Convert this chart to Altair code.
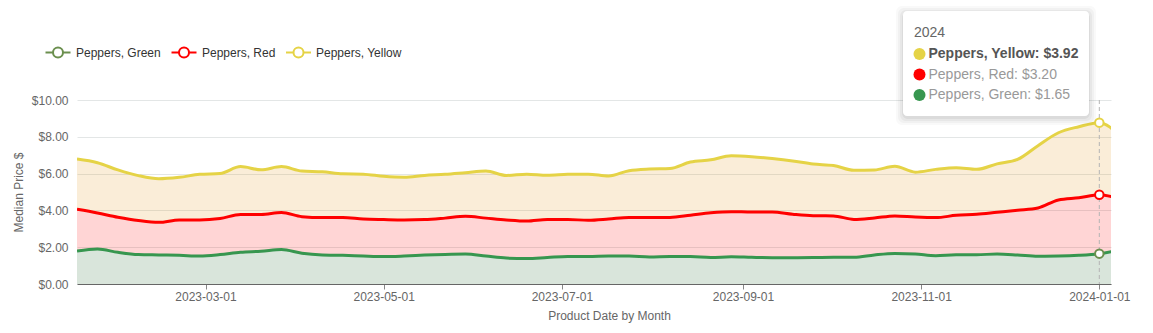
import altair as alt
import pandas as pd

# ---- data ----
dates = [
    "2023-01-16", "2023-01-23", "2023-01-30", "2023-02-06", "2023-02-13", "2023-02-20",
    "2023-02-27", "2023-03-06", "2023-03-13", "2023-03-20", "2023-03-27", "2023-04-03",
    "2023-04-10", "2023-04-17", "2023-04-24", "2023-05-01", "2023-05-08", "2023-05-15",
    "2023-05-22", "2023-05-29", "2023-06-05", "2023-06-12", "2023-06-19", "2023-06-26",
    "2023-07-03", "2023-07-10", "2023-07-17", "2023-07-24", "2023-07-31", "2023-08-07",
    "2023-08-14", "2023-08-21", "2023-08-28", "2023-09-04", "2023-09-11", "2023-09-18",
    "2023-09-25", "2023-10-02", "2023-10-09", "2023-10-16", "2023-10-23", "2023-10-30",
    "2023-11-06", "2023-11-13", "2023-11-20", "2023-11-27", "2023-12-04", "2023-12-11",
    "2023-12-18", "2023-12-25", "2024-01-01", "2024-01-08",
]
series_names = ["Peppers, Green", "Peppers, Red", "Peppers, Yellow"]
green = [1.79, 1.90, 1.72, 1.60, 1.58, 1.56, 1.52, 1.60, 1.73, 1.78,
         1.87, 1.67, 1.58, 1.56, 1.52, 1.49, 1.52, 1.57, 1.61, 1.63,
         1.52, 1.41, 1.38, 1.44, 1.50, 1.49, 1.52, 1.52, 1.47, 1.49,
         1.49, 1.44, 1.48, 1.45, 1.43, 1.43, 1.44, 1.45, 1.45, 1.58,
         1.66, 1.63, 1.54, 1.59, 1.59, 1.63, 1.58, 1.51, 1.52, 1.56,
         1.65, 1.85]
red = [2.27, 1.96, 1.91, 1.85, 1.77, 1.92, 1.96, 1.96, 2.05, 2.00,
       2.01, 1.99, 2.03, 2.05, 2.01, 2.01, 1.96, 1.93, 1.97, 2.05,
       2.06, 2.07, 2.04, 2.07, 2.01, 1.97, 2.01, 2.10, 2.15, 2.13,
       2.25, 2.43, 2.45, 2.46, 2.48, 2.36, 2.27, 2.25, 2.06, 2.01,
       2.04, 2.01, 2.07, 2.14, 2.20, 2.27, 2.43, 2.62, 3.05, 3.13,
       3.20, 2.78]
yellow = [2.73, 2.73, 2.57, 2.44, 2.37, 2.32, 2.48, 2.45, 2.60, 2.43,
          2.50, 2.48, 2.49, 2.38, 2.44, 2.35, 2.32, 2.40, 2.38, 2.37,
          2.56, 2.42, 2.55, 2.40, 2.45, 2.51, 2.34, 2.54, 2.63, 2.66,
          2.89, 2.88, 3.04, 3.01, 2.91, 2.90, 2.81, 2.74, 2.67, 2.61,
          2.70, 2.44, 2.62, 2.59, 2.44, 2.63, 2.76, 3.39, 3.65, 3.86,
          3.92, 3.40]
x_ticks = ["2023-03-01", "2023-05-01", "2023-07-01", "2023-09-01", "2023-11-01", "2024-01-01"]
y_ticks = [0, 2, 4, 6, 8, 10]
hover_date = "2024-01-01"
hover_label = "2024"

# ---- styles ----
line_colors = ["#37964f", "#ff0000", "#e5d346"]
legend_colors = ["#6b8f4e", "#ff0000", "#e5d346"]
fill_colors = ["#20662b", "#ff0808", "#e2951a"]
line_widths = [3, 3, 2.2]
FONT = "Liberation Sans"

rows = []
for name, order, vals in zip(series_names, [0, 1, 2], [green, red, yellow]):
    for d, v in zip(dates, vals):
        rows.append({"date": d, "series": name, "price": v, "ord": order,
                     "hl": 1 if d == hover_date else 0})
df = pd.DataFrame(rows)


def dt(s):
    y, m, d = (int(p) for p in s.split("-"))
    return alt.DateTime(year=y, month=m, date=d, utc=True)


x_enc = alt.X(
    "date:T",
    scale=alt.Scale(type="utc", domain=[dt("2023-01-16"), dt("2024-01-05")]),
    axis=alt.Axis(
        values=[dt(t) for t in x_ticks], format="%Y-%m-%d", title="Product Date by Month",
        grid=False, domainColor="#666666", tickColor="#888888", tickSize=5,
        labelColor="#666666", labelFontSize=12, labelPadding=2, labelFont=FONT,
        labelOverlap=False,
        titleColor="#666666", titleFontSize=12, titleFontWeight="normal", titlePadding=8,
        titleFont=FONT, titleX=532,
    ),
)
y_axis = alt.Axis(
    values=y_ticks, format="$.2f", title="Median Price $",
    ticks=False, domain=False, gridColor="#e3e6e6", labelColor="#666666",
    labelFontSize=12, labelPadding=9, labelFont=FONT, labelOverlap=False,
    titleColor="#666666", titleFontSize=12, titleFontWeight="normal",
    titlePadding=6, titleFont=FONT,
)
y_scale = alt.Scale(domain=[0, 10])
y_enc = alt.Y("y1:Q", scale=y_scale, axis=y_axis)

base = alt.Chart(df).transform_stack(
    stack="price", groupby=["date"], as_=["y0", "y1"], sort=[alt.SortField("ord")]
)

areas = base.mark_area(clip=True, opacity=0.17, interpolate="monotone").encode(
    x=x_enc,
    y=y_enc,
    y2="y0:Q",
    fill=alt.Fill("series:N", scale=alt.Scale(domain=series_names, range=fill_colors), legend=None),
)

vrule = base.transform_filter("datum.hl == 1 && datum.ord == 0").mark_rule(
    color="#b5b5b5", strokeDash=[4, 3], strokeWidth=1
).encode(x=x_enc)

lines = base.mark_line(clip=True, interpolate="monotone").encode(
    x=x_enc,
    y=y_enc,
    stroke=alt.Stroke("series:N", scale=alt.Scale(domain=series_names, range=line_colors), legend=None),
    strokeWidth=alt.StrokeWidth("series:N", scale=alt.Scale(domain=series_names, range=line_widths), legend=None),
    detail="series:N",
)

points = base.transform_filter("datum.hl == 1").mark_point(
    shape="circle", filled=False, fill="white", size=72, strokeWidth=2, opacity=1
).encode(
    x=x_enc,
    y=y_enc,
    color=alt.Color("series:N", scale=alt.Scale(domain=series_names, range=legend_colors), legend=None),
)

one = alt.Data(values=[{"k": 1}])

# ---- legend (line + hollow circle + label) ----
legend_layers = []
leg_sym_x = [-19, 107, 221.5]
leg_lab_x = [-1, 125, 239]
leg_y = -47.5
for name, col, sx, lx in zip(series_names, legend_colors, leg_sym_x, leg_lab_x):
    legend_layers.append(alt.Chart(one).mark_rule(color=col, strokeWidth=2).encode(
        x=alt.value(sx - 12.5), x2=alt.value(sx + 12.5), y=alt.value(leg_y)))
    legend_layers.append(alt.Chart(one).mark_point(
        shape="circle", filled=False, fill="white", color=col, size=100, strokeWidth=2, opacity=1
    ).encode(x=alt.value(sx), y=alt.value(leg_y)))
    legend_layers.append(alt.Chart(one).mark_text(
        text=name, align="left", baseline="middle", fontSize=12, color="#333333", font=FONT
    ).encode(x=alt.value(lx), y=alt.value(leg_y)))

# ---- static hover tooltip overlay ----
k = dates.index(hover_date)
bx0, bx1, by0, by1 = 826, 1012, -89, 16
overlay = []
for d, op in [(7, 0.025), (5, 0.03), (3, 0.04), (1, 0.05)]:
    overlay.append(alt.Chart(one).mark_rect(color="#000000", opacity=op, cornerRadius=6).encode(
        x=alt.value(bx0 - d), x2=alt.value(bx1 + d), y=alt.value(by0 - d + 2), y2=alt.value(by1 + d + 2)))
overlay.append(alt.Chart(one).mark_rect(color="#ffffff", cornerRadius=4).encode(
    x=alt.value(bx0), x2=alt.value(bx1), y=alt.value(by0), y2=alt.value(by1)))
overlay.append(alt.Chart(one).mark_text(
    text=hover_label, align="left", baseline="middle", fontSize=14, color="#666666", font=FONT
).encode(x=alt.value(837), y=alt.value(-67)))
entries = [
    (series_names[2], yellow[k], line_colors[2], "bold", "#555555", -46),
    (series_names[1], red[k], line_colors[1], "normal", "#999999", -25.5),
    (series_names[0], green[k], line_colors[0], "normal", "#999999", -5),
]
for name, val, col, wt, tcol, yy in entries:
    overlay.append(alt.Chart(one).mark_point(
        shape="circle", filled=True, size=144, color=col, opacity=1
    ).encode(x=alt.value(842.5), y=alt.value(yy)))
    overlay.append(alt.Chart(one).mark_text(
        text=f"{name}: ${val:.2f}", align="left", baseline="middle", fontSize=14,
        fontWeight=wt, color=tcol, font=FONT
    ).encode(x=alt.value(851.5), y=alt.value(yy)))

chart = alt.layer(areas, vrule, lines, points, *legend_layers, *overlay).properties(
    width=1034, height=184,
    autosize=alt.AutoSizeParams(type="none"),
    padding={"left": 77, "top": 100, "right": 42, "bottom": 49},
    background="white",
).configure(font=FONT).configure_view(stroke=None)

chart.save("out.html", embed_options={"renderer": "svg", "actions": False})
